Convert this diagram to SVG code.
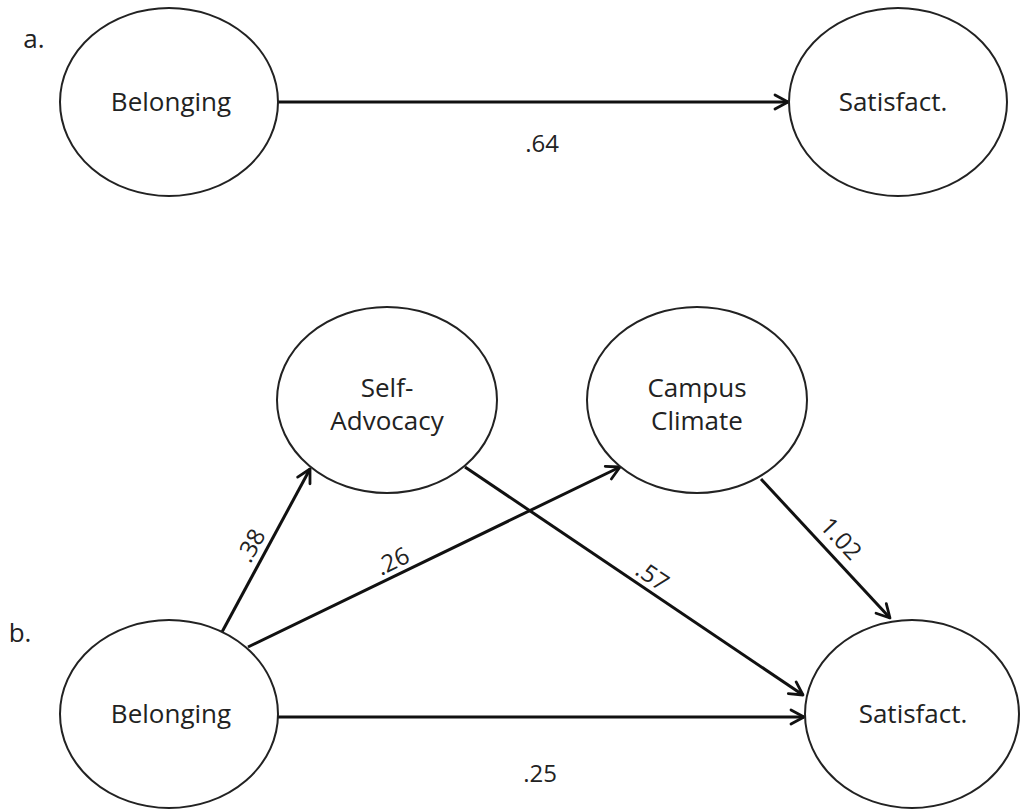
<svg xmlns="http://www.w3.org/2000/svg" width="1020" height="810" viewBox="0 0 1020 810">
<defs>
<style>
.node{fill:#fff;stroke:#222;stroke-width:2}
.t{font-family:"Open Sans","Liberation Sans",sans-serif;font-size:26px;fill:#222;text-anchor:middle}
.lbl{font-family:"Open Sans","Liberation Sans",sans-serif;font-size:24px;fill:#222;text-anchor:middle;dominant-baseline:central}
.e{stroke:#111;stroke-width:3;fill:none;marker-end:url(#arr)}
</style>
<marker id="arr" markerUnits="userSpaceOnUse" markerWidth="18" markerHeight="18" viewBox="0 0 18 18" refX="16" refY="9" orient="auto">
<path d="M3,2 L16,9 L3,16" fill="none" stroke="#111" stroke-width="2.8" stroke-linecap="round" stroke-linejoin="round"/>
</marker>
</defs>
<rect width="1020" height="810" fill="#fff"/>
<text class="t" x="34" y="48">a.</text>
<text class="t" x="20" y="642">b.</text>
<g id="connectors">
<line class="e" x1="278" y1="102" x2="788" y2="102"/>
<line class="e" x1="222" y1="632" x2="310" y2="469"/>
<line class="e" x1="248" y1="647" x2="620" y2="467"/>
<line class="e" x1="465" y1="467" x2="803" y2="695"/>
<line class="e" x1="761" y1="479" x2="890" y2="618"/>
<line class="e" x1="278" y1="717" x2="804" y2="717"/>
<text class="lbl" x="542" y="142">.64</text>
<text class="lbl" x="250" y="545" transform="rotate(-61.6 250 545)">.38</text>
<text class="lbl" x="392" y="560" transform="rotate(-25.8 392 560)">.26</text>
<text class="lbl" x="653" y="575" transform="rotate(34 653 575)">.57</text>
<text class="lbl" x="842" y="538" transform="rotate(47 842 538)">1.02</text>
<text class="lbl" x="540" y="772">.25</text>
</g>
<g id="a-belonging">
<ellipse class="node" cx="169" cy="102" rx="109" ry="94"/>
<text class="t" x="171" y="111">Belonging</text>
</g>
<g id="a-satisfact">
<ellipse class="node" cx="898" cy="102" rx="109" ry="94"/>
<text class="t" x="893" y="111">Satisfact.</text>
</g>
<g id="self-advocacy">
<ellipse class="node" cx="387" cy="400" rx="110" ry="93"/>
<text class="t" x="387" y="397">Self-</text>
<text class="t" x="387" y="430">Advocacy</text>
</g>
<g id="campus-climate">
<ellipse class="node" cx="697" cy="400" rx="110" ry="93"/>
<text class="t" x="697" y="397">Campus</text>
<text class="t" x="697" y="430">Climate</text>
</g>
<g id="b-belonging">
<ellipse class="node" cx="169" cy="714" rx="109" ry="94"/>
<text class="t" x="171" y="723">Belonging</text>
</g>
<g id="b-satisfact">
<ellipse class="node" cx="912" cy="714" rx="107" ry="94"/>
<text class="t" x="913" y="723">Satisfact.</text>
</g>
</svg>
